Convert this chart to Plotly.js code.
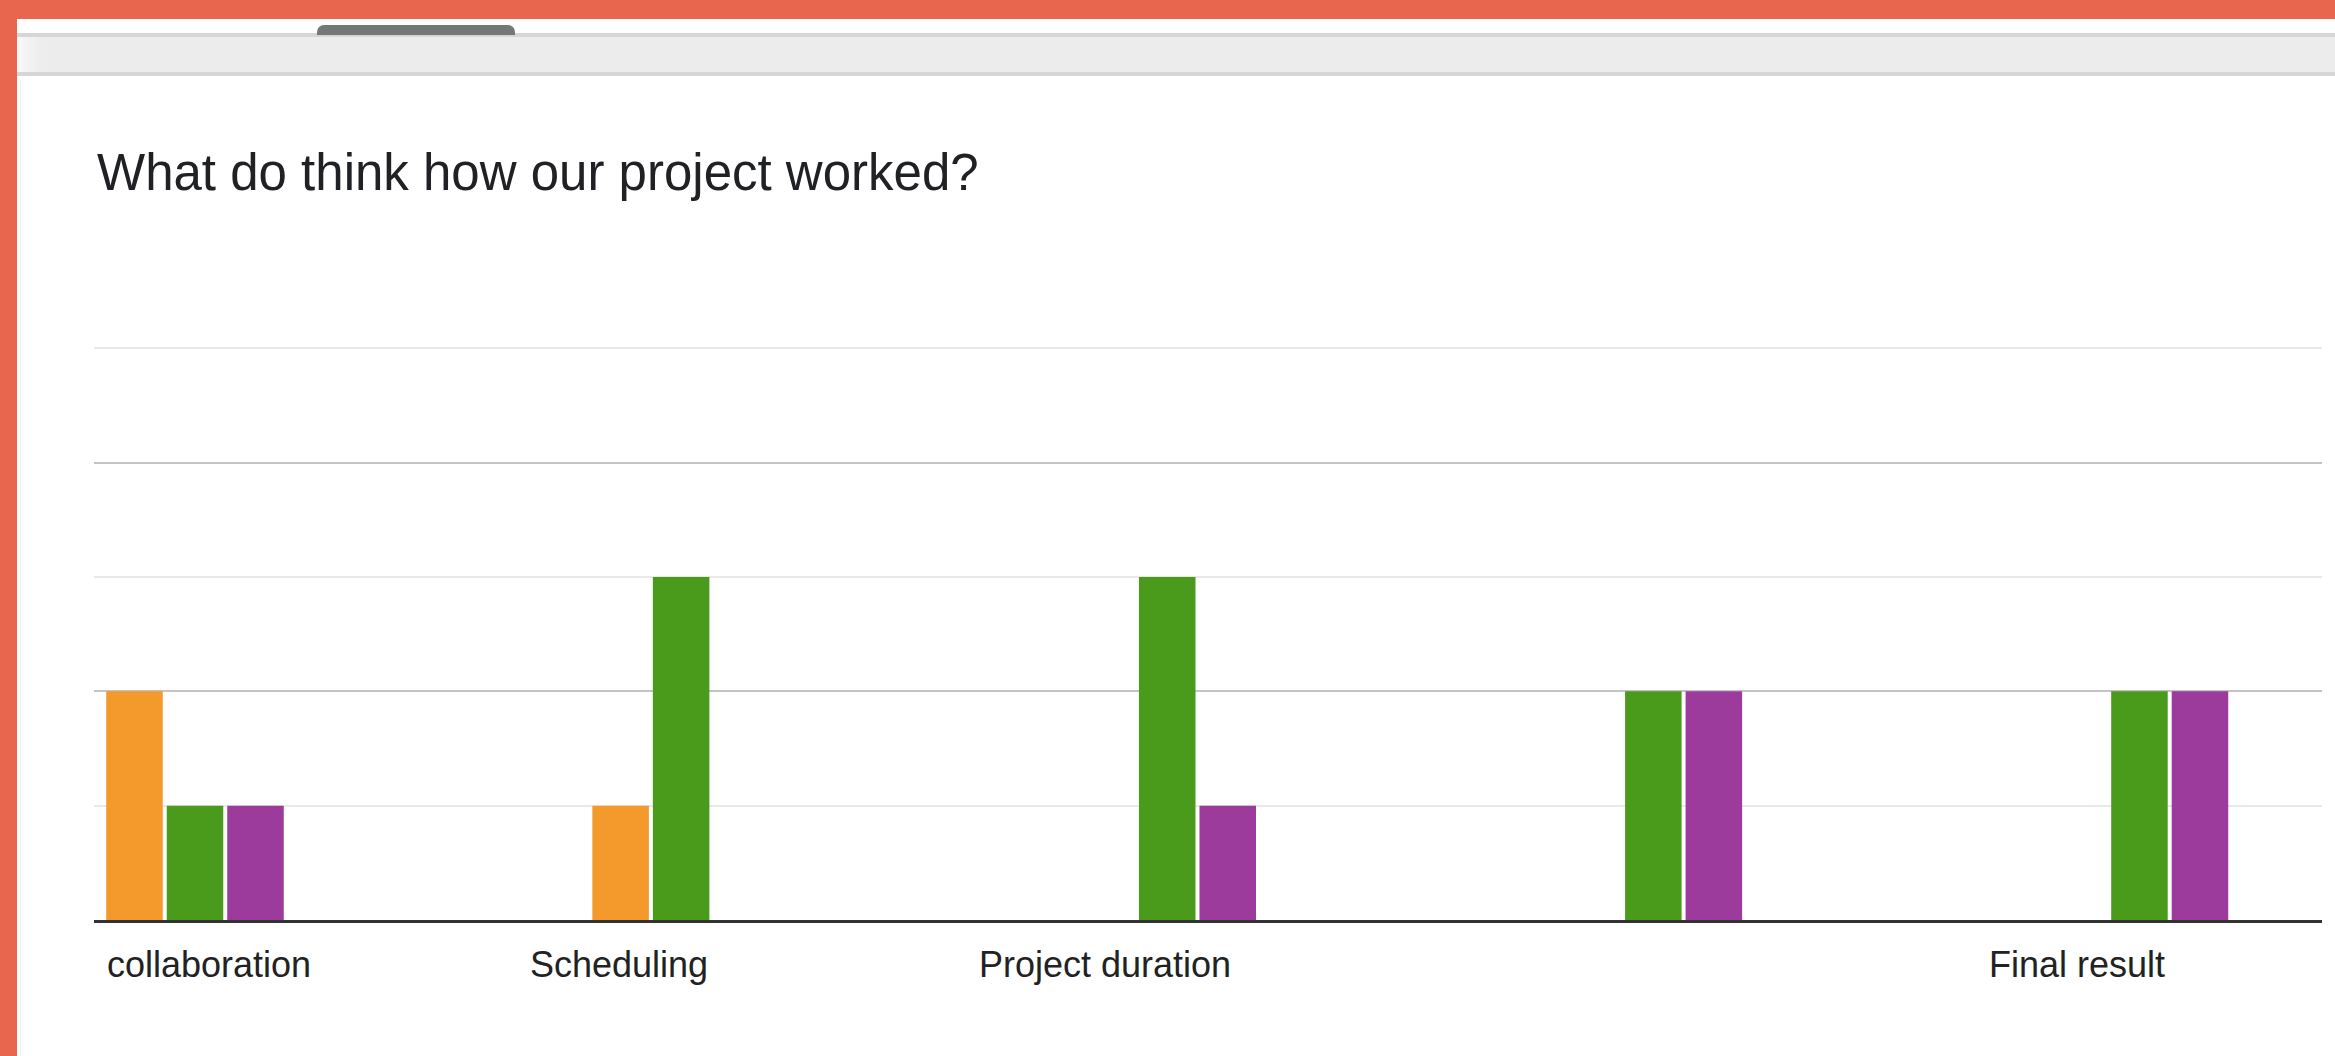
<!DOCTYPE html>
<html>
<head>
<meta charset="utf-8">
<script src="https://cdn.plot.ly/plotly-3.0.1.min.js"></script>
<style>
  html, body { margin: 0; padding: 0; width: 2335px; height: 1056px; overflow: hidden; background: #ffffff; }
  .deco { position: absolute; }
  #chart { position: absolute; left: 0; top: 0; width: 2335px; height: 1056px; }
</style>
</head>
<body>
<div class="deco" style="left:0;top:0;width:2335px;height:19px;background:#e7664d;"></div>
<div class="deco" style="left:0;top:0;width:17px;height:1056px;background:#e7664d;"></div>
<div class="deco" style="left:17px;top:33px;width:2318px;height:4px;background:#d6d6d6;"></div>
<div class="deco" style="left:17px;top:37px;width:2318px;height:35px;background:linear-gradient(to right,#f8f8f8 0px,#ececec 25px,#ececec 100%);"></div>
<div class="deco" style="left:17px;top:72px;width:2318px;height:4px;background:#d6d6d6;"></div>
<div class="deco" style="left:317px;top:25px;width:198px;height:10px;background:#767676;border-radius:7px 7px 0 0;"></div>
<div class="deco" style="left:20px;top:80px;width:1px;height:976px;background:#ececec;"></div>
<div id="chart"></div>
<script>
// Categories (the 4th category label is not visible in the reference)
const categories = ["collaboration", "Scheduling", "Project duration", "", "Final result"];
const categoryIndex = [0, 1, 2, 3, 4];
// Response series (Google Forms grid columns); names not shown in the reference
const seriesNames = ["Option 1", "Option 2", "Option 3", "Option 4", "Option 5"];
const seriesColors = ["#3366cc", "#dc3912", "#f4992b", "#4a9a1c", "#9c3b9b"];
const option1 = [0, 0, 0, 0, 0];
const option2 = [0, 0, 0, 0, 0];
const option3 = [2, 1, 0, 0, 0];
const option4 = [1, 3, 3, 2, 2];
const option5 = [1, 0, 1, 2, 2];
const titleText = "What do think how our project worked?";
const yMax = 5;

const seriesValues = [option1, option2, option3, option4, option5];
const traces = seriesValues.map((vals, i) => ({
  type: "bar",
  x: categoryIndex,
  y: vals,
  name: seriesNames[i],
  marker: { color: seriesColors[i], line: { width: 0 } },
  hoverinfo: "skip"
}));
// empty helper trace so the overlaid axis (darker gridlines every 2) is drawn
traces.push({ type: "scatter", x: [], y: [], yaxis: "y2", hoverinfo: "skip", showlegend: false });

const labelFont = { family: "Liberation Sans, Arial, sans-serif", size: 36, color: "#222222" };
const annotations = [];
categories.forEach((c, i) => {
  if (!c) return;
  if (i === 0) {
    annotations.push({ text: c, xref: "paper", x: 0, xanchor: "left", xshift: 11,
      yref: "paper", y: 0, yanchor: "middle", yshift: -44, showarrow: false, font: labelFont });
  } else {
    annotations.push({ text: c, xref: "x", x: i, xanchor: "center", xshift: -2,
      yref: "paper", y: 0, yanchor: "middle", yshift: -44, showarrow: false, font: labelFont });
  }
});

const layout = {
  width: 2335,
  height: 1056,
  paper_bgcolor: "rgba(0,0,0,0)",
  plot_bgcolor: "rgba(0,0,0,0)",
  margin: { l: 94, r: 13, t: 345, b: 136, pad: 0 },
  showlegend: false,
  barmode: "group",
  bargap: 0.3776,
  bargroupgap: 0.066,
  title: {
    text: titleText,
    xref: "container", x: 97 / 2335, xanchor: "left",
    yref: "container", y: 1 - 172 / 1056, yanchor: "middle",
    font: { family: "Liberation Sans, Arial, sans-serif", size: 51, color: "#202124" }
  },
  xaxis: {
    range: [-0.0833, 4.5],
    showticklabels: false,
    ticks: "",
    showgrid: false,
    zeroline: false,
    showline: true,
    linecolor: "#333333",
    linewidth: 3,
    fixedrange: true
  },
  yaxis: {
    range: [0, yMax + 0.03],
    dtick: 1,
    tick0: 0,
    showticklabels: false,
    ticks: "",
    showgrid: true,
    gridcolor: "#e9e9e9",
    gridwidth: 2,
    zeroline: false,
    showline: false,
    fixedrange: true
  },
  yaxis2: {
    overlaying: "y",
    matches: "y",
    dtick: 2,
    tick0: 0,
    showticklabels: false,
    ticks: "",
    showgrid: true,
    gridcolor: "#c4c4c4",
    gridwidth: 2,
    zeroline: false,
    showline: false,
    fixedrange: true
  },
  annotations: annotations
};

Plotly.newPlot("chart", traces, layout, { displayModeBar: false, staticPlot: true });
</script>
</body>
</html>
